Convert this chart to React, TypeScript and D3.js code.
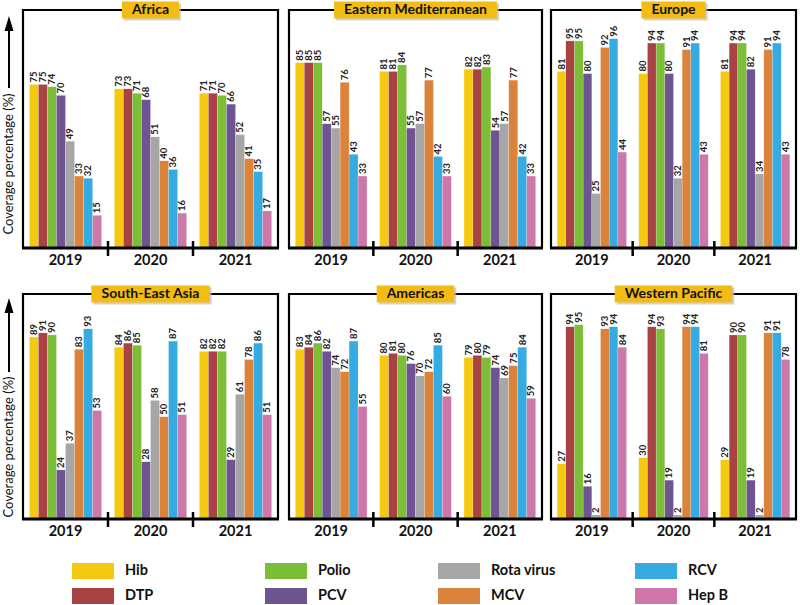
import React from 'react';
import * as d3 from 'd3';

const years = ['2019', '2020', '2021'];
const vaccines = ['Hib', 'DTP', 'Polio', 'PCV', 'Rota virus', 'MCV', 'RCV', 'Hep B'];
const vaccineColors = ['#F5C90F', '#A94343', '#7DBE38', '#6E5490', '#A6A6A6', '#DB823B', '#35ABE2', '#CD78A8'];
const regionNames = ['Africa', 'Eastern Mediterranean', 'Europe', 'South-East Asia', 'Americas', 'Western Pacific'];

// values per year, in vaccine order
const africa = [
  [75, 75, 74, 70, 49, 33, 32, 15],
  [73, 73, 71, 68, 51, 40, 36, 16],
  [71, 71, 70, 66, 52, 41, 35, 17],
];
const easternMediterranean = [
  [85, 85, 85, 57, 55, 76, 43, 33],
  [81, 81, 84, 55, 57, 77, 42, 33],
  [82, 82, 83, 54, 57, 77, 42, 33],
];
const europe = [
  [81, 95, 95, 80, 25, 92, 96, 44],
  [80, 94, 94, 80, 32, 91, 94, 43],
  [81, 94, 94, 82, 34, 91, 94, 43],
];
const southEastAsia = [
  [89, 91, 90, 24, 37, 83, 93, 53],
  [84, 86, 85, 28, 58, 50, 87, 51],
  [82, 82, 82, 29, 61, 78, 86, 51],
];
const americas = [
  [83, 84, 86, 82, 74, 72, 87, 55],
  [80, 81, 80, 76, 70, 72, 85, 60],
  [79, 80, 79, 74, 69, 75, 84, 59],
];
const westernPacific = [
  [27, 94, 95, 16, 2, 93, 94, 84],
  [30, 94, 93, 19, 2, 94, 94, 81],
  [29, 90, 90, 19, 2, 91, 91, 78],
];
const regionData = [africa, easternMediterranean, europe, southEastAsia, americas, westernPacific];

const yAxisTitle = 'Coverage percentage (%)';

// layout
const colX = [[23, 278], [289, 542], [551, 796]];
const rowY = [[10, 248], [294, 519]];
const FONT = 'Lato, "Open Sans", sans-serif';

function measure(text: string, font: string): number {
  const c = document.createElement('canvas');
  const ctx = c.getContext('2d');
  if (!ctx) return text.length * 7;
  ctx.font = font;
  return ctx.measureText(text).width;
}

function Panel({ idx }: { idx: number }) {
  const col = idx % 3;
  const row = Math.floor(idx / 3);
  const [x0, x1] = colX[col];
  const [y0, y1] = rowY[row];
  const data = regionData[idx];
  const title = regionNames[idx];

  const xYear = d3.scaleBand<string>().domain(years).range([x0, x1]).paddingInner(0.15).paddingOuter(0.075);
  const xVac = d3.scaleBand<string>().domain(vaccines).range([0, xYear.bandwidth()]).padding(0);
  const y = d3.scaleLinear().domain([0, (y1 - y0) / (row === 0 ? 2.18 : 2.045)]).range([y1, y0]);

  const titleFont = `bold 14px Lato`;
  const tw = measure(title, titleFont) + 20;
  const cx = (x0 + x1) / 2;
  const th = 17;

  const ticks = [1, 2].map((k) => x0 + k * ((x1 - x0) / 3));

  return (
    <g>
      {years.map((yr, yi) => (
        <g key={yr}>
          {vaccines.map((v, vi) => {
            const val = data[yi][vi];
            const bx = (xYear(yr) as number) + (xVac(v) as number);
            const by = y(val);
            const bw = xVac.bandwidth();
            return (
              <g key={v}>
                <rect x={bx} y={by} width={bw} height={y(0) - by} fill={vaccineColors[vi]} stroke="#ffffff" strokeOpacity={0.5} strokeWidth={0.4} />
                <text
                  transform={`translate(${bx + bw / 2 + 3.3},${by - 2}) rotate(-90)`}
                  fontFamily={FONT}
                  fontSize={9.5}
                  fontWeight={700}
                  fill="#222"
                >
                  {val}
                </text>
              </g>
            );
          })}
          <text
            x={(xYear(yr) as number) + xYear.bandwidth() / 2}
            y={y1 + 17}
            textAnchor="middle"
            fontFamily={FONT}
            fontSize={14.5}
            fontWeight={700}
            fill="#111"
          >
            {yr}
          </text>
        </g>
      ))}
      {/* frame */}
      <path d={`M${x0},${y1} L${x0},${y0} L${x1},${y0} L${x1},${y1}`} fill="none" stroke="#000" strokeWidth={2.2} />
      <line x1={x0 - 1} x2={x1 + 1} y1={y1} y2={y1} stroke="#000" strokeWidth={3} />
      {ticks.map((t, i) => (
        <line key={i} x1={t} x2={t} y1={y1 - 7} y2={y1 + 8} stroke="#000" strokeWidth={2.5} />
      ))}
      {/* title box */}
      <rect x={cx - tw / 2 + 2} y={y0 - th / 2 + 2} width={tw} height={th} fill="#bdbdbd" opacity={0.7} />
      <rect x={cx - tw / 2} y={y0 - th / 2} width={tw} height={th} fill="#F3BC14" />
      <text x={cx} y={y0 + 0.5} textAnchor="middle" dominantBaseline="middle" fontFamily={FONT} fontSize={14} fontWeight={700} fill="#111">
        {title}
      </text>
    </g>
  );
}

function YTitle({ cy, arrowTop, arrowBottom }: { cy: number; arrowTop: number; arrowBottom: number }) {
  return (
    <g>
      <text
        transform={`translate(13,${cy}) rotate(-90)`}
        textAnchor="middle"
        fontFamily={FONT}
        fontSize={13}
        fill="#111"
      >
        {yAxisTitle}
      </text>
      <line x1={9} x2={9} y1={arrowBottom} y2={arrowTop + 12} stroke="#000" strokeWidth={2} />
      <polygon points={`9,${arrowTop} 4.5,${arrowTop + 15} 13.5,${arrowTop + 15}`} fill="#000" />
    </g>
  );
}

function Legend() {
  const swX = [72, 265, 438, 635];
  return (
    <g>
      {vaccines.map((v, i) => {
        const c = Math.floor(i / 2);
        const r = i % 2;
        const sy = 563 + r * 25;
        return (
          <g key={v}>
            <rect x={swX[c]} y={sy} width={42} height={16} fill={vaccineColors[i]} />
            <text x={swX[c] + 53} y={sy + 8.5} dominantBaseline="middle" fontFamily={FONT} fontSize={14.5} fontWeight={700} fill="#111">
              {v}
            </text>
          </g>
        );
      })}
    </g>
  );
}

export default function App() {
  return (
    <svg width={800} height={605} style={{ position: 'absolute', left: 0, top: 0, background: '#fff' }}>
      <rect x={0} y={0} width={800} height={605} fill="#fff" />
      {regionNames.map((_, i) => (
        <Panel key={i} idx={i} />
      ))}
      <YTitle cy={164} arrowTop={16} arrowBottom={88} />
      <YTitle cy={447} arrowTop={298} arrowBottom={372} />
      <Legend />
    </svg>
  );
}
